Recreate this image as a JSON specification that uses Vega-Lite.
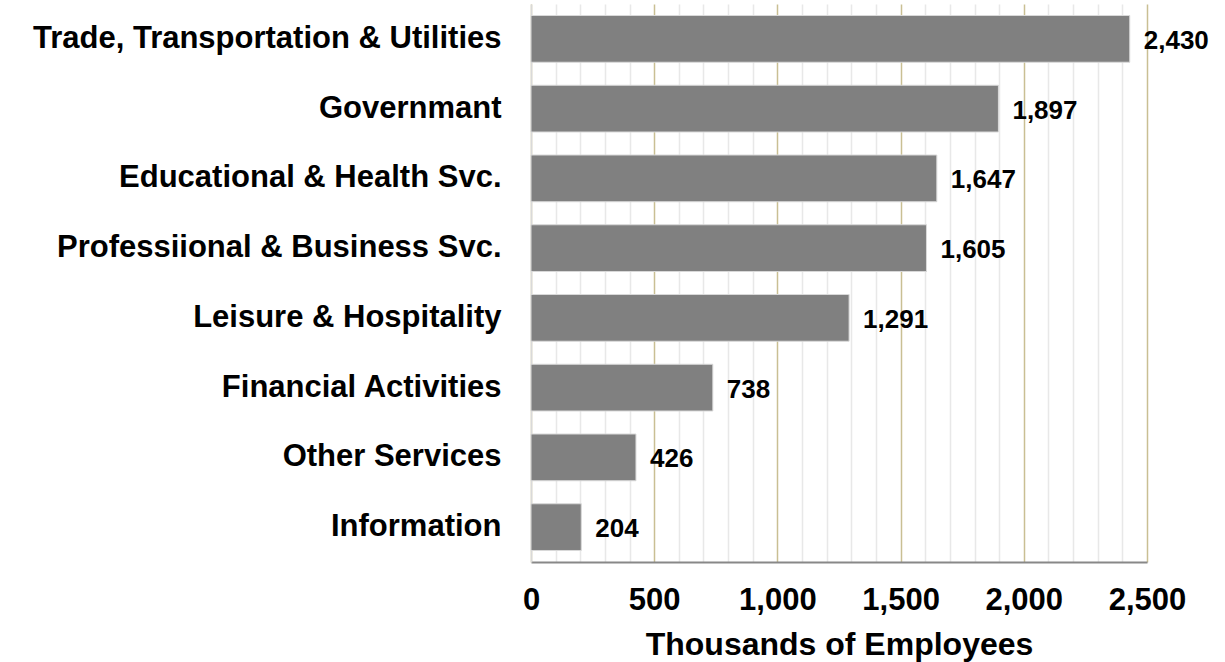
{
  "$schema": "https://vega.github.io/schema/vega-lite/v6.json",
  "autosize": "none",
  "padding": {"left": 531, "top": 4, "right": 78, "bottom": 100},
  "width": 616,
  "height": 558,
  "background": "white",
  "config": {
    "font": "Liberation Sans",
    "view": {"stroke": null}
  },
  "data": {
    "values": [
      {"sector": "Trade, Transportation & Utilities", "employees": 2430},
      {"sector": "Governmant", "employees": 1897},
      {"sector": "Educational & Health Svc.", "employees": 1647},
      {"sector": "Professiional & Business Svc.", "employees": 1605},
      {"sector": "Leisure & Hospitality", "employees": 1291},
      {"sector": "Financial Activities", "employees": 738},
      {"sector": "Other Services", "employees": 426},
      {"sector": "Information", "employees": 204}
    ]
  },
  "encoding": {
    "y": {
      "field": "sector",
      "type": "nominal",
      "sort": null,
      "scale": {"paddingInner": 0.33, "paddingOuter": 0.165},
      "axis": {
        "title": null,
        "ticks": false,
        "labelPadding": 30,
        "labelFontSize": 31,
        "labelFontWeight": "bold",
        "labelColor": "black",
        "domainColor": "#d9d9d9",
        "domainWidth": 1.5,
        "labelLimit": 600
      }
    },
    "x": {
      "field": "employees",
      "type": "quantitative",
      "scale": {"domain": [0, 2500], "nice": false},
      "axis": {
        "title": "Thousands of Employees",
        "values": [0,100,200,300,400,500,600,700,800,900,1000,1100,1200,1300,1400,1500,1600,1700,1800,1900,2000,2100,2200,2300,2400,2500],
        "labelExpr": "datum.value % 500 === 0 ? format(datum.value, ',') : ''",
        "ticks": false,
        "grid": true,
        "gridColor": {"condition": {"test": "datum.value % 500 === 0", "value": "#c9bf93"}, "value": "#e8e8e8"},
        "gridWidth": 1.5,
        "domainColor": "#888888",
        "domainWidth": 2,
        "labelFontSize": 31,
        "labelFontWeight": "bold",
        "labelColor": "black",
        "labelPadding": 23,
        "labelFlush": false,
        "labelOverlap": false,
        "titleFontSize": 32,
        "titleFontWeight": "bold",
        "titleColor": "black",
        "titlePadding": 14
      }
    }
  },
  "layer": [
    {
      "mark": {"type": "bar", "color": "#808080", "stroke": "#d9d9d9", "strokeWidth": 1}
    },
    {
      "mark": {"type": "text", "align": "left", "baseline": "middle", "dx": 14, "dy": 2, "fontSize": 26, "fontWeight": "bold", "color": "black"},
      "encoding": {
        "text": {"field": "employees", "type": "quantitative", "format": ","}
      }
    }
  ]
}
